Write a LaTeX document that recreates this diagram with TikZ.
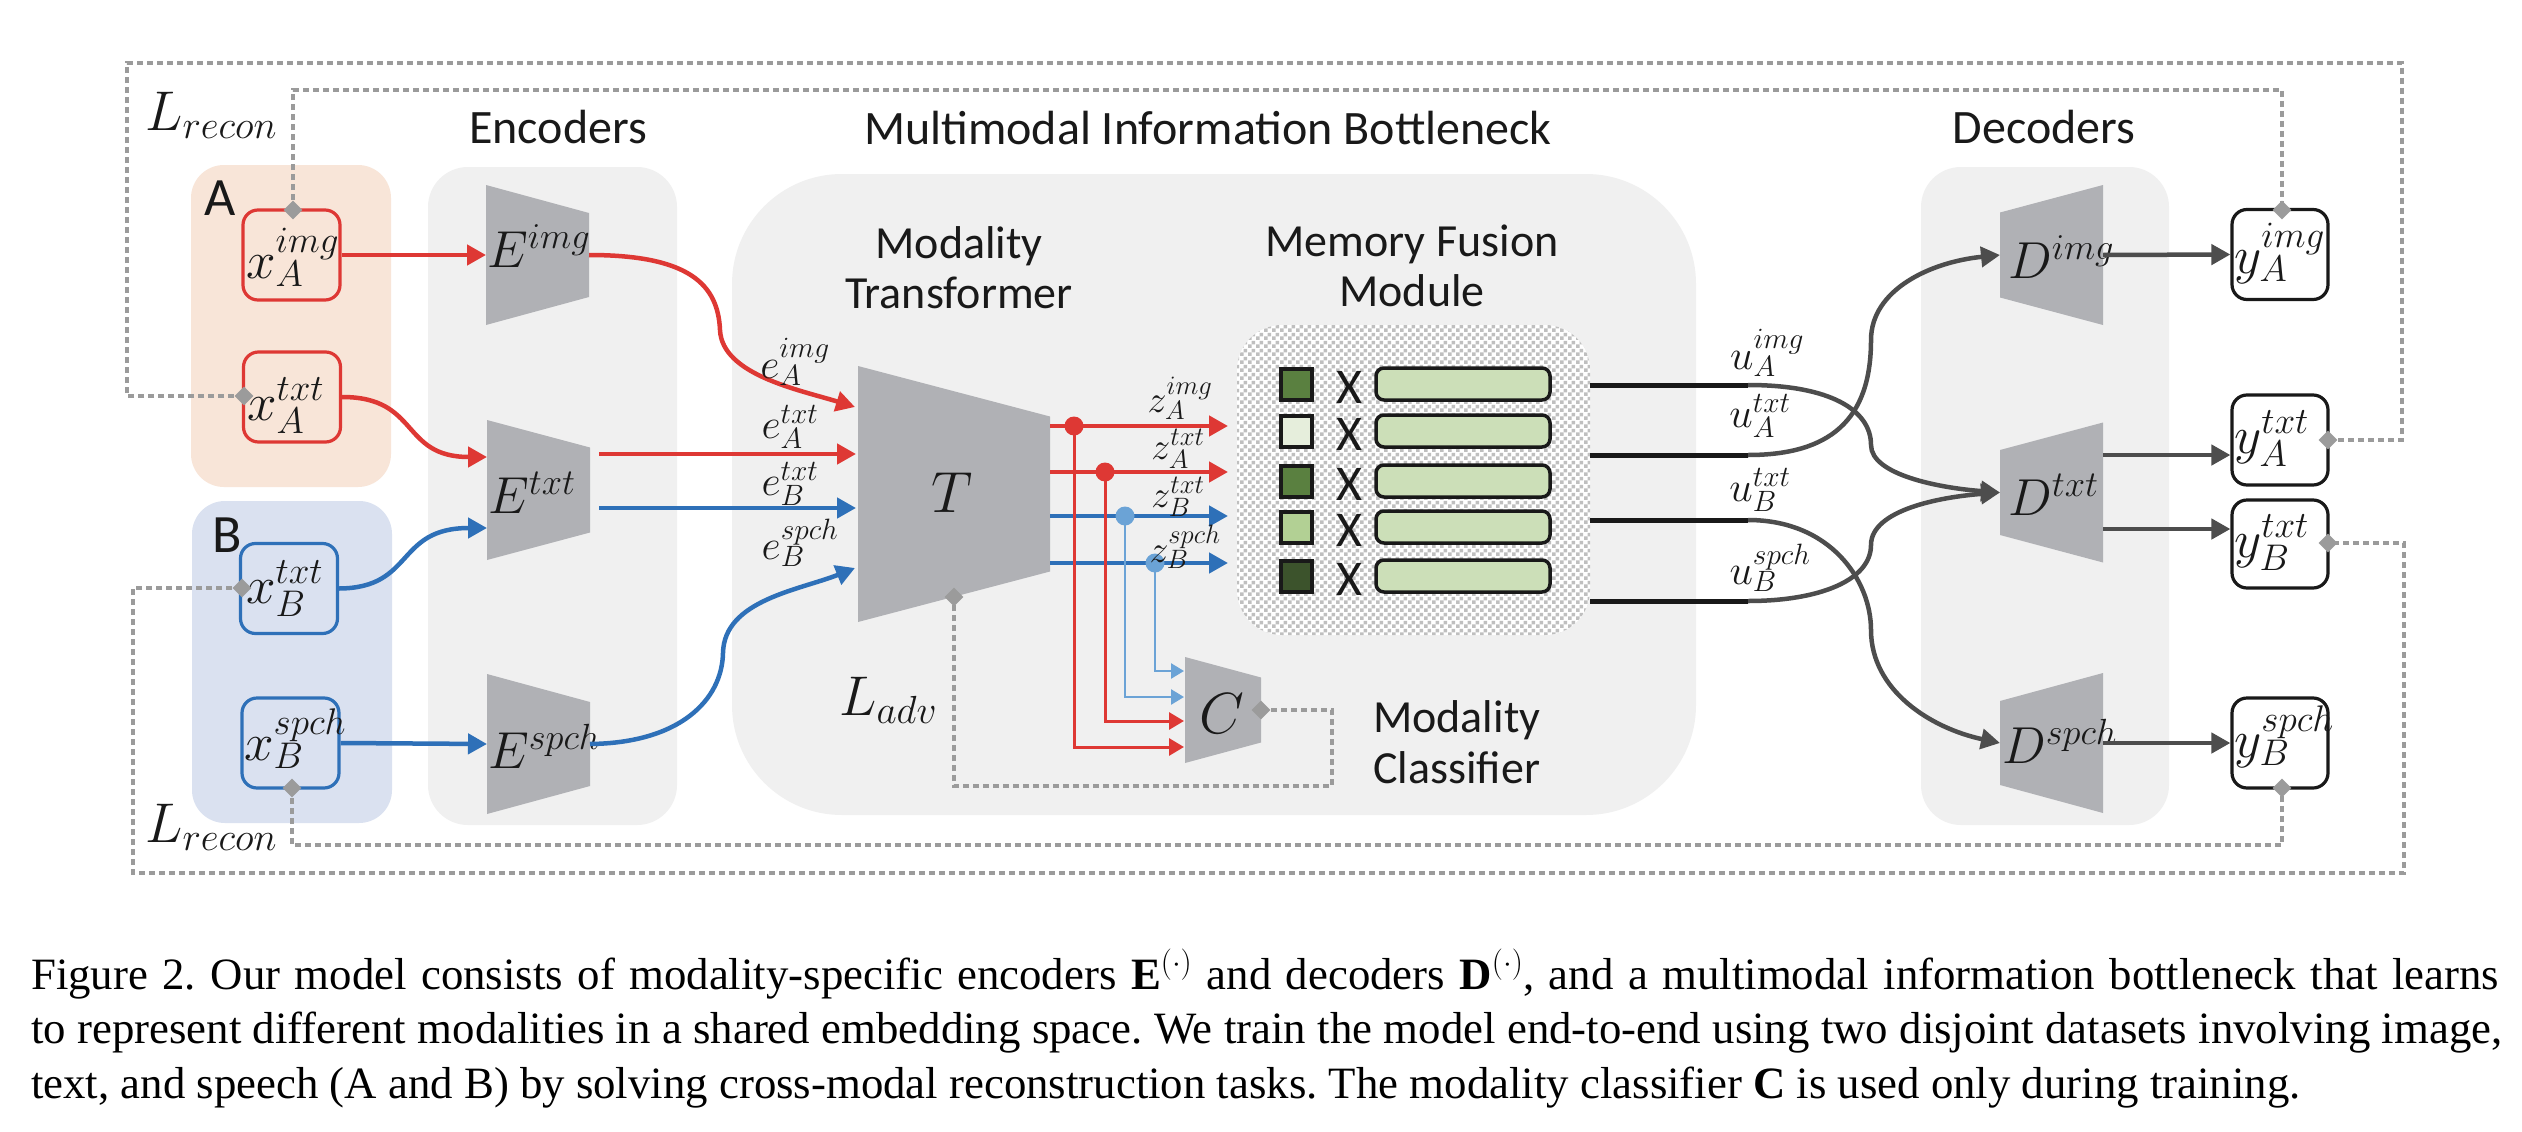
\RequirePackage{fix-cm}
\documentclass[tikz,border=0pt]{standalone}
\usepackage{fontspec}
\setmainfont{Liberation Serif}
\newfontfamily\calib{Carlito}
\usetikzlibrary{arrows.meta,patterns.meta,shapes.geometric}
\definecolor{myred}{RGB}{222,56,52}
\definecolor{myblue}{RGB}{46,112,184}
\definecolor{lblue}{RGB}{107,163,214}
\definecolor{trapgray}{RGB}{176,177,181}
\definecolor{panel}{RGB}{240,240,240}
\definecolor{agroup}{RGB}{248,229,216}
\definecolor{bgroup}{RGB}{218,225,240}
\definecolor{dotgray}{RGB}{155,155,155}
\definecolor{dkgray}{RGB}{77,77,77}
\definecolor{ink}{RGB}{25,25,25}
\definecolor{barfill}{RGB}{204,223,184}
\definecolor{gA}{RGB}{90,128,64}
\definecolor{gB}{RGB}{230,238,220}
\definecolor{gC}{RGB}{178,208,148}
\definecolor{gD}{RGB}{60,83,44}
\newcommand{\fsz}[1]{\fontsize{#1}{#1}\selectfont}
\tikzdeclarepattern{name=chk, type=uncolored,
  bounding box={(0,0) and (8pt,8pt)}, tile size={(8pt,8pt)},
  code={\fill (0pt,0pt) rectangle (4pt,4pt); \fill (4pt,4pt) rectangle (8pt,8pt);}}
% name, xl, xr, yc, half height left, half height right
\newcommand{\mytrap}[6]{%
  \fill[trapgray] (#2,#4-#5) -- (#3,#4-#6) -- (#3,#4+#6) -- (#2,#4+#5) -- cycle;
  \coordinate (#1-w) at (#2,#4); \coordinate (#1-e) at (#3,#4);}
\begin{document}
\begin{tikzpicture}[x=1pt,y=-1pt,
  ml/.style={inner sep=0pt, text=ink},
  sans/.style={inner sep=0pt, text=ink, font=\calib\fsz{46}},
  xbox/.style={draw, line width=3.2pt, rounded corners=15pt, inner sep=0pt, minimum width=97pt, minimum height=90pt},
  dmd/.style={diamond, fill=dotgray, inner sep=0pt, minimum width=19pt, minimum height=19pt},
  dotl/.style={dotgray, line width=4pt, dash pattern=on 6pt off 4pt},
  thk/.style={line width=4.5pt, -{Triangle[length=19pt,width=20pt]}},
  thn/.style={line width=3pt, -{Triangle[length=15pt,width=17pt]}},
  thl/.style={line width=2.6pt, -{Triangle[length=13pt,width=15pt]}},
  dot/.style={circle, inner sep=0pt, minimum size=19pt},
  sq/.style={draw=ink, line width=4pt, minimum size=31pt, inner sep=0pt},
  bar/.style={draw=ink, line width=3.5pt, fill=barfill, rounded corners=8pt, minimum width=174pt, minimum height=32pt, inner sep=0pt},
  capt/.style={anchor=base west, inner sep=0pt, font=\frenchspacing\fsz{44.8}}]
\useasboundingbox (0,0) rectangle (2522,1132);
\fill[white] (0,0) rectangle (2522,1132);
% panels
\fill[agroup, rounded corners=33pt] (191,165) rectangle (391,487);
\fill[bgroup, rounded corners=33pt] (192,501) rectangle (392,823);
\fill[panel, rounded corners=40pt] (428,167) rectangle (677,825);
\fill[panel, rounded corners=110pt] (732,174) rectangle (1696,815);
\fill[panel, rounded corners=40pt] (1921,167) rectangle (2169,825);
% titles
\node[sans, font=\calib\fsz{48}, anchor=base] (tEnc) at (558,143) {Encoders};
\node[sans, font=\calib\fsz{48}, anchor=base] (tMIB) at (1208,144) {Multimodal Information Bottleneck};
\node[sans, font=\calib\fsz{48}, anchor=base] (tDec) at (2044,143) {Decoders};
\node[sans, font=\calib\fsz{54}, anchor=base west] (lA) at (204,215) {A};
\node[sans, font=\calib\fsz{54}, anchor=base west] (lB) at (212,552) {B};
\node[sans, anchor=base] (mt1) at (959,258) {Modality};
\node[sans, anchor=base] (mt2) at (959,308) {Transformer};
\node[sans, anchor=base] (mf1) at (1412,256) {Memory Fusion};
\node[sans, anchor=base] (mf2) at (1412,306) {Module};
\node[sans, anchor=base west] (mc1) at (1373,732) {Modality};
\node[sans, anchor=base west] (mc2) at (1373,783) {Classifier};
% input / output boxes
\node[xbox, draw=myred] (xai) at (291.5,255) {};
\node[xbox, draw=myred] (xat) at (292,397) {};
\node[xbox, draw=myblue] (xbt) at (289,588.5) {};
\node[xbox, draw=myblue] (xbs) at (290.5,743) {};
\node[xbox, draw=ink, fill=white, minimum width=96pt] (yai) at (2280,254.5) {};
\node[xbox, draw=ink, fill=white, minimum width=96pt] (yat) at (2280,440) {};
\node[xbox, draw=ink, fill=white, minimum width=96pt, minimum height=88pt] (ybt) at (2280,544) {};
\node[xbox, draw=ink, fill=white, minimum width=96pt] (ybs) at (2280,743) {};
\node[ml, font=\fsz{53}, anchor=base west] (txai) at (246,278) {$x_A^{img}$};
\node[ml, font=\fsz{53}, anchor=base west] (txat) at (247,420) {$x_A^{txt}$};
\node[ml, font=\fsz{53}, anchor=base west] (txbt) at (246,603) {$x_B^{txt}$};
\node[ml, font=\fsz{53}, anchor=base west] (txbs) at (244,760) {$x_B^{spch}$};
\node[ml, font=\fsz{53}, anchor=base west] (tyai) at (2234,273) {$y_A^{img}$};
\node[ml, font=\fsz{53}, anchor=base west] (tyat) at (2234,453) {$y_A^{txt}$};
\node[ml, font=\fsz{53}, anchor=base west] (tybt) at (2234,557) {$y_B^{txt}$};
\node[ml, font=\fsz{53}, anchor=base west] (tybs) at (2234,757) {$y_B^{spch}$};
% trapezoids
\mytrap{Ei}{486}{589}{255}{70}{42}
\mytrap{Et}{487}{590}{490}{70}{42.5}
\mytrap{Es}{487}{590}{744}{70}{42}
\mytrap{T}{858}{1050}{494}{128}{77.5}
\mytrap{C}{1185}{1261}{710}{53}{32.5}
\mytrap{Di}{2000}{2103}{255}{42.5}{70}
\mytrap{Dt}{2000}{2103}{492.5}{42.5}{70}
\mytrap{Ds}{2000}{2103}{743}{42}{70}
\node[ml, font=\fsz{52}, anchor=base west] (tEi) at (487,267) {$E^{img}$};
\node[ml, font=\fsz{52}, anchor=base west] (tEt) at (488,513) {$E^{txt}$};
\node[ml, font=\fsz{52}, anchor=base west] (tEs) at (488,768) {$E^{spch}$};
\node[ml, font=\fsz{58}] (tT) at (952,493) {$T$};
\node[ml, font=\fsz{58}] (tC) at (1222,714) {$C$};
\node[ml, font=\fsz{52}, anchor=base west] (tDi) at (2008,278) {$D^{img}$};
\node[ml, font=\fsz{52}, anchor=base west] (tDt) at (2008,515) {$D^{txt}$};
\node[ml, font=\fsz{52}, anchor=base west] (tDs) at (2002,763) {$D^{spch}$};
% loss labels
\node[ml, font=\fsz{56}, anchor=base west] (Lr1) at (145,130) {$L_{recon}$};
\node[ml, font=\fsz{56}, anchor=base west] (Lr2) at (145,842) {$L_{recon}$};
\node[ml, font=\fsz{56}, anchor=base west] (La) at (839,715) {$L_{adv}$};
% diamonds (anchor points)
\coordinate (cdxai) at (293,210);
\coordinate (cdxat) at (244,396);
\coordinate (cdxbt) at (242,588);
\coordinate (cdxbs) at (292,788);
\coordinate (cdyai) at (2282,210);
\coordinate (cdyat) at (2328,440);
\coordinate (cdybt) at (2328,543);
\coordinate (cdybs) at (2282,788);
\coordinate (cdC) at (1261,710);
\coordinate (cdT) at (954,597);
% dotted loops
\draw[dotl] (cdxai) -- (293,90) -- (2282,90) -- (cdyai);
\draw[dotl] (cdxat) -- (127,396) -- (127,63) -- (2402,63) -- (2402,440) -- (cdyat);
\draw[dotl] (cdxbt) -- (133,588) -- (133,873) -- (2404,873) -- (2404,543) -- (cdybt);
\draw[dotl] (cdxbs) -- (292,845) -- (2282,845) -- (cdybs);
\draw[dotl, line width=3.5pt] (cdC) -- (1332,710) -- (1332,786) -- (954,786) -- (cdT);
\foreach \d in {cdxai,cdxat,cdxbt,cdxbs,cdyai,cdyat,cdybt,cdybs,cdC,cdT}
  \node[dmd] (m\d) at (\d) {};
% encoder inputs
\coordinate (Et-wr) at (487,457);
\coordinate (Et-wb) at (487,528);
\draw[thk, myred] (xai.east) -- (Ei-w);
\draw[thk, myred] (xat.east) .. controls (420,397) and (400,457) .. (Et-wr);
\draw[thk, myblue] (xbt.east) .. controls (415,588) and (395,528) .. (Et-wb);
\draw[thk, myblue] (xbs.east) -- (Es-w);
% encoder outputs to T
\coordinate (EtR) at (599,454);
\coordinate (EtB) at (599,508);
\coordinate (Tin1) at (855,407);
\coordinate (Tin2) at (856,454);
\coordinate (Tin3) at (856,508);
\coordinate (Tin4) at (855,568);
\draw[thk, myred] (Ei-e) .. controls (690,255) and (718,285) .. (720,330) .. controls (722,375) and (800,390) .. (Tin1);
\draw[thk, myred] (EtR) -- (Tin2);
\draw[thk, myblue] (EtB) -- (Tin3);
\draw[thk, myblue] (Es-e) .. controls (680,743) and (722,700) .. (723,653) .. controls (724,600) and (800,590) .. (Tin4);
\node[ml, font=\fsz{42}] (le1) at (795,362) {$e_A^{img}$};
\node[ml, font=\fsz{42}] (le2) at (790,427) {$e_A^{txt}$};
\node[ml, font=\fsz{42}] (le3) at (790,484) {$e_B^{txt}$};
\node[ml, font=\fsz{42}] (le4) at (800,543) {$e_B^{spch}$};
% T outputs
\coordinate (To1) at (1050,426); \coordinate (Zi1) at (1228,426);
\coordinate (To2) at (1050,472); \coordinate (Zi2) at (1228,472);
\coordinate (To3) at (1050,516); \coordinate (Zi3) at (1228,516);
\coordinate (To4) at (1050,563); \coordinate (Zi4) at (1228,563);
\draw[thk, myred] (To1) -- (Zi1);
\draw[thk, myred] (To2) -- (Zi2);
\draw[thk, myblue] (To3) -- (Zi3);
\draw[thk, myblue] (To4) -- (Zi4);
\coordinate (p1) at (1074,426);
\coordinate (p2) at (1105,472);
\coordinate (p3) at (1125,516);
\coordinate (p4) at (1155,563);
\coordinate (Ci1) at (1184,671);
\coordinate (Ci2) at (1184,697);
\coordinate (Ci3) at (1184,721);
\coordinate (Ci4) at (1184,747);
\draw[thn, myred] (p1) |- (Ci4);
\draw[thn, myred] (p2) |- (Ci3);
\draw[thl, lblue] (p3) |- (Ci2);
\draw[thl, lblue] (p4) |- (Ci1);
\node[dot, fill=myred] (dp1) at (p1) {};
\node[dot, fill=myred] (dp2) at (p2) {};
\node[dot, fill=lblue] (dp3) at (p3) {};
\node[dot, fill=lblue] (dp4) at (p4) {};
\node[ml, font=\fsz{38}] (lz1) at (1180,398) {$z_A^{img}$};
\node[ml, font=\fsz{38}] (lz2) at (1178,449) {$z_A^{txt}$};
\node[ml, font=\fsz{38}] (lz3) at (1178,497) {$z_B^{txt}$};
\node[ml, font=\fsz{38}] (lz4) at (1185,547) {$z_B^{spch}$};
% memory fusion module
\fill[white, rounded corners=45pt] (1237,325) rectangle (1590,635);
\fill[pattern=chk, pattern color=gray!50, rounded corners=45pt] (1237,325) rectangle (1590,635);
\foreach \yc/\col in {384/gA,431/gB,481/gA,527/gC,576/gD} {
  \node[sq, fill=\col] (s\yc) at (1296.5,\yc) {};
  \node[ml, font=\calib\fsz{50}] (x\yc) at (1349,\yc+3) {X};
  \node[bar] (b\yc) at (1463,\yc) {};
}
% module outputs
\coordinate (mo1) at (1590,385); \coordinate (mb1) at (1748,385);
\coordinate (mo2) at (1590,455); \coordinate (mb2) at (1748,455);
\coordinate (mo3) at (1590,520); \coordinate (mb3) at (1748,520);
\coordinate (mo4) at (1590,601); \coordinate (mb4) at (1748,601);
\foreach \i in {1,2,3,4} \draw[ink, line width=5pt] (mo\i) -- (mb\i);
\draw[thk, dkgray] (mb1) .. controls (1830,385) and (1871,410) .. (1871,445) .. controls (1871,475) and (1940,488) .. (Dt-w);
\draw[thk, dkgray] (mb2) .. controls (1830,455) and (1871,420) .. (1871,340) .. controls (1871,290) and (1930,262) .. (Di-w);
\draw[thk, dkgray] (mb3) .. controls (1830,520) and (1871,580) .. (1871,630) .. controls (1871,690) and (1930,728) .. (Ds-w);
\draw[thk, dkgray] (mb4) .. controls (1820,601) and (1871,580) .. (1871,545) .. controls (1871,510) and (1940,497) .. (Dt-w);
\node[ml, font=\fsz{42}] (lu1) at (1767,353) {$u_A^{img}$};
\node[ml, font=\fsz{42}] (lu2) at (1760,416) {$u_A^{txt}$};
\node[ml, font=\fsz{42}] (lu3) at (1760,490) {$u_B^{txt}$};
\node[ml, font=\fsz{42}] (lu4) at (1770,568) {$u_B^{spch}$};
% decoder outputs
\coordinate (Dto1) at (2103,455);
\coordinate (Dto2) at (2103,529);
\draw[thk, dkgray] (Di-e) -- (yai.west);
\draw[thk, dkgray] (Dto1) -- (yat.west |- Dto1);
\draw[thk, dkgray] (Dto2) -- (ybt.west |- Dto2);
\draw[thk, dkgray] (Ds-e) -- (ybs.west);
% caption
\node[capt] (cap1) at (31,989) {\hbox to 2468pt{Figure 2. Our model consists of modality-specific encoders $\mathbf{E}^{(\cdot)}$ and decoders $\mathbf{D}^{(\cdot)}$, and a multimodal information bottleneck that learns}};
\node[capt] (cap2) at (31,1043) {\hbox to 2471pt{to represent different modalities in a shared embedding space. We train the model end-to-end using two disjoint datasets involving image,}};
\node[capt] (cap3) at (31,1098) {text, and speech (A and B) by solving cross-modal reconstruction tasks. The modality classifier $\mathbf{C}$ is used only during training.};
\end{tikzpicture}
\end{document}
